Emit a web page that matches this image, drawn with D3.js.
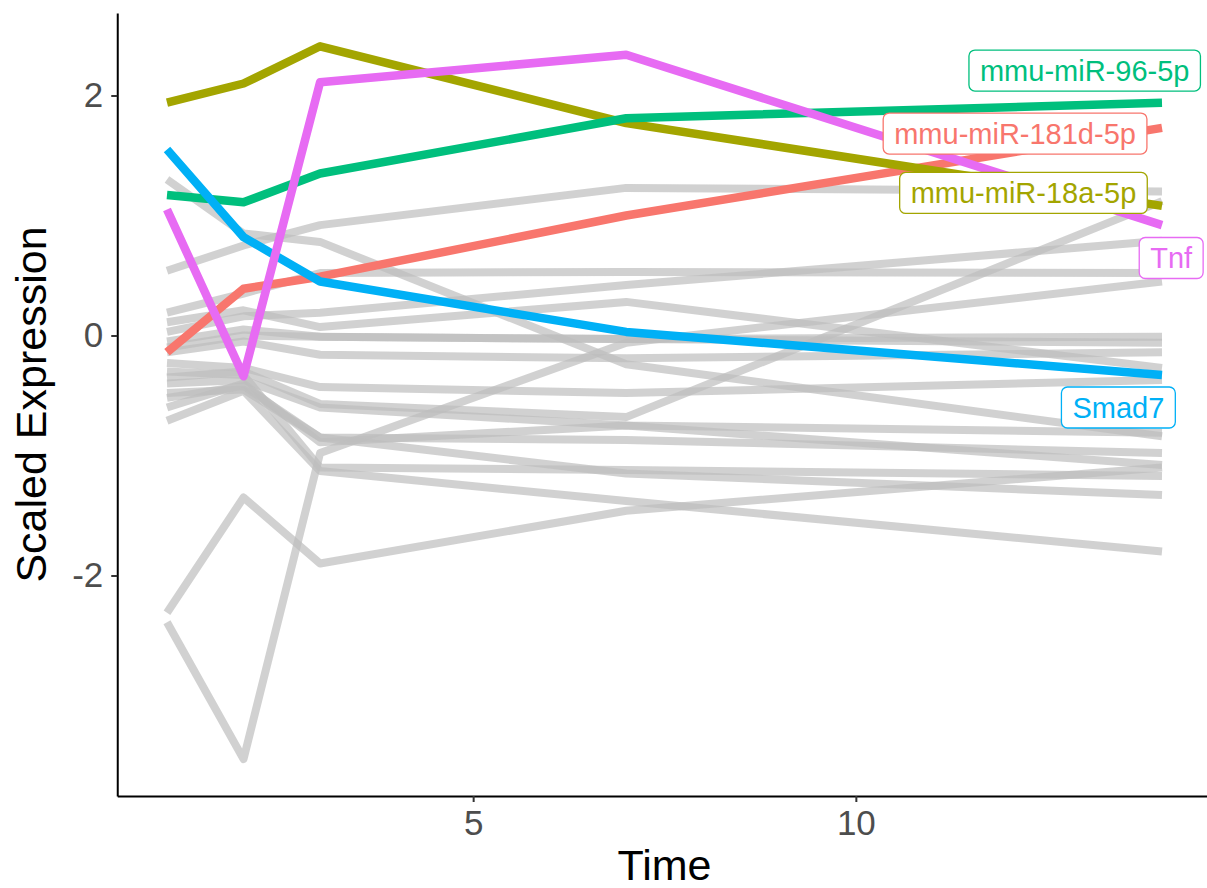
<!DOCTYPE html>
<html>
<head>
<meta charset="utf-8">
<script src="https://cdnjs.cloudflare.com/ajax/libs/d3/7.8.5/d3.min.js"></script>
<style>
  body { margin: 0; background: #fff; }
  text { font-family: "Liberation Sans", Arial, Helvetica, sans-serif; }
</style>
</head>
<body>
<svg id="chart"></svg>
<script>
// time points (days)
const times = [1, 2, 3, 7, 14];

// highlighted features, in ggplot factor order
const highlightNames = ["mmu-miR-181d-5p", "mmu-miR-18a-5p", "mmu-miR-96-5p", "Smad7", "Tnf"];
const highlightColors = ["#F8766D", "#A3A500", "#00BF7D", "#00B0F6", "#E76BF3"];
const highlightValues = [
    [-0.14, 0.39, 0.49, 1.00, 1.73],
    [1.94, 2.10, 2.41, 1.77, 1.08],
    [1.17, 1.11, 1.35, 1.81, 1.94],
    [1.55, 0.82, 0.45, 0.03, -0.33],
    [1.05, -0.34, 2.11, 2.34, 0.92]
];

// background features
const grayValues = [
    [1.30, 0.85, 0.78, -0.24, -0.84],
    [0.54, 0.75, 0.92, 1.23, 1.20],
    [0.19, 0.35, 0.52, 0.53, 0.52],
    [0.11, 0.21, 0.07, 0.28, -0.27],
    [0.03, 0.16, 0.19, 0.42, 0.79],
    [-0.05, 0.05, -0.01, -0.03, -0.01],
    [-0.14, -0.05, -0.16, -0.19, -0.14],
    [-0.23, -0.27, -0.43, -0.48, -0.37],
    [-0.35, -0.30, -0.57, -0.68, 1.12],
    [-0.40, -0.37, -0.60, -0.75, -0.81],
    [-0.48, -0.45, -0.85, -0.87, -0.98],
    [-0.60, -0.40, -0.89, -0.75, -1.08],
    [-0.71, -0.46, -1.13, -1.38, -1.80],
    [-2.39, -3.53, -0.98, -0.06, 0.45],
    [-2.31, -1.35, -1.90, -1.46, -1.10],
    [-0.30, -0.33, -1.10, -1.12, -1.17],
    [-0.52, -0.42, -0.85, -1.15, -1.33],
    [-0.10, 0.00, -0.01, -0.03, -0.06]
];

// repelled label centres, in data units
const labelX = [12.08, 12.19, 12.99, 13.43, 14.12];
const labelY = [1.683, 1.188, 2.208, -0.600, 0.646];

const xTicks = [5, 10];
const yTicks = [-2, 0, 2];

const width = 1207;
const height = 888;

const svg = d3.select('#chart')
    .attr('width', width)
    .attr('height', height);

const x = d3.scaleLinear()
    .domain([0.35, 14.65])
    .range([117.25, 1211.75]);

const y = d3.scaleLinear()
    .domain([-3.8375, 2.6875])
    .range([796, 13]);

const line = d3.line()
    .x((d, i) => x(times[i]))
    .y(d => y(d));

// gray lines
svg.append("g")
    .selectAll("path")
    .data(grayValues)
    .enter()
    .append("path")
    .attr("d", line)
    .attr("fill", "none")
    .attr("stroke", "#BEBEBE")
    .attr("stroke-opacity", 0.7)
    .attr("stroke-width", 8)
    .attr("stroke-linejoin", "round");

// highlighted lines
svg.append("g")
    .selectAll("path")
    .data(highlightValues)
    .enter()
    .append("path")
    .attr("d", line)
    .attr("fill", "none")
    .attr("stroke", (d, i) => highlightColors[i])
    .attr("stroke-width", 8.5)
    .attr("stroke-linejoin", "round");

// axes
const xAxis = svg.append("g")
    .attr("transform", "translate(0," + y.range()[0] + ")")
    .call(d3.axisBottom(x).tickValues(xTicks).tickSizeInner(6).tickSizeOuter(0).tickPadding(8));
const yAxis = svg.append("g")
    .attr("transform", "translate(" + x.range()[0] + ",0)")
    .call(d3.axisLeft(y).tickValues(yTicks).tickSizeInner(6).tickSizeOuter(0).tickPadding(8)
        .tickFormat(d3.format("d")));

[xAxis, yAxis].forEach(function(ax) {
    ax.select(".domain").attr("stroke", "#000").attr("stroke-width", 2);
    ax.selectAll(".tick line").attr("stroke", "#333333").attr("stroke-width", 2);
    ax.selectAll(".tick text")
        .attr("fill", "#4D4D4D")
        .style("font-size", "35px")
        .style("font-family", '"Liberation Sans", Arial, Helvetica, sans-serif');
});
yAxis.selectAll(".tick text").text(d => d < 0 ? "-" + Math.abs(d) : d);

// axis titles
svg.append("text")
    .attr("x", (x.range()[0] + x.range()[1]) / 2)
    .attr("y", 880)
    .attr("text-anchor", "middle")
    .style("font-size", "43px")
    .text("Time");

svg.append("text")
    .attr("transform", "translate(46," + (y.range()[0] + y.range()[1]) / 2 + ")rotate(-90)")
    .attr("text-anchor", "middle")
    .style("font-size", "43px")
    .text("Scaled Expression");

// labels
const labels = svg.append("g")
    .selectAll("g")
    .data(highlightNames)
    .enter()
    .append("g")
    .attr("transform", (d, i) => "translate(" + x(labelX[i]) + "," + y(labelY[i]) + ")");

labels.append("rect")
    .attr("fill", "#fff")
    .attr("stroke", (d, i) => highlightColors[i])
    .attr("stroke-width", 1.3)
    .attr("rx", 6)
    .attr("ry", 6);

labels.append("text")
    .attr("text-anchor", "middle")
    .attr("dy", "0.36em")
    .attr("fill", (d, i) => highlightColors[i])
    .style("font-size", "29px")
    .text(d => d);

labels.each(function() {
    const g = d3.select(this);
    const w = g.select("text").node().getComputedTextLength();
    g.select("rect")
        .attr("x", -w / 2 - 11)
        .attr("y", -20.5)
        .attr("width", w + 22)
        .attr("height", 41);
});
</script>
</body>
</html>
